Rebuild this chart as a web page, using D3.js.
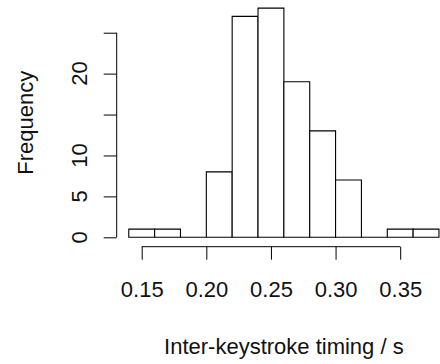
<!DOCTYPE html>
<html>
<head>
<meta charset="utf-8">
<script src="https://cdn.jsdelivr.net/npm/d3@7"></script>
<style>
  html, body { margin: 0; padding: 0; background: #fff; }
  svg text { font-family: "Liberation Sans", Arial, Helvetica, sans-serif; fill: #111; }
</style>
</head>
<body>
<div class="hist-chart"></div>
<script>
// histogram bins (left edges, width 0.02) and counts
const binStarts = [0.14, 0.16, 0.18, 0.20, 0.22, 0.24, 0.26, 0.28, 0.30, 0.32, 0.34, 0.36];
const binWidth = 0.02;
const counts = [1, 1, 0, 8, 27, 28, 19, 13, 7, 0, 1, 1];

const xTicks = [0.15, 0.20, 0.25, 0.30, 0.35];
const xTickLabels = ['0.15', '0.20', '0.25', '0.30', '0.35'];
const yTicks = [0, 5, 10, 15, 20, 25];
const yTickLabels = ['0', '5', '10', '', '20', ''];

const xTitle = 'Inter-keystroke timing / s';
const yTitle = 'Frequency';

const width = 440;
const height = 364;
const fontSize = 22;

const svg = d3.select('.hist-chart')
  .append('svg')
  .attr('width', width)
  .attr('height', height);

// scales
const x = d3.scaleLinear()
  .domain([0.15, 0.35])
  .range([141.7, 400.2]);

const y = d3.scaleLinear()
  .domain([0, 25])
  .range([237.3, 32.7]);

// bars as closed paths so that empty bins still show a baseline
svg.append('g')
  .selectAll('path')
  .data(binStarts.map((b, i) => ({ start: b, count: counts[i] })))
  .join('path')
  .attr('d', d => {
    const x0 = x(d.start), x1 = x(d.start + binWidth);
    const y0 = y(0), y1 = y(d.count);
    return `M${x0},${y0}L${x0},${y1}L${x1},${y1}L${x1},${y0}Z`;
  })
  .attr('fill', '#fff')
  .attr('stroke', '#000')
  .attr('stroke-width', 1.1);

// x axis
const xAxisY = 246.7;
const xAxis = d3.axisBottom(x)
  .tickValues(xTicks)
  .tickFormat((d, i) => xTickLabels[i])
  .tickSizeOuter(0)
  .tickSize(13);

const xAxisGroup = svg.append('g')
  .attr('transform', `translate(0, ${xAxisY})`)
  .call(xAxis)
  .call(g => g.select('.domain').remove());

xAxisGroup.append('line')
  .attr('x1', x(xTicks[0]))
  .attr('x2', x(xTicks[xTicks.length - 1]))
  .attr('stroke', '#000');

xAxisGroup.selectAll('.tick line').attr('stroke', '#000');
xAxisGroup.selectAll('.tick text')
  .attr('font-size', fontSize)
  .attr('font-family', '"Liberation Sans", Arial, Helvetica, sans-serif')
  .attr('fill', '#111')
  .attr('dy', 0)
  .attr('y', 297.5 - xAxisY);

// y axis
const yAxisX = 116.7;
const yAxis = d3.axisLeft(y)
  .tickValues(yTicks)
  .tickFormat('')
  .tickSizeOuter(0)
  .tickSize(13);

const yAxisGroup = svg.append('g')
  .attr('transform', `translate(${yAxisX}, 0)`)
  .call(yAxis)
  .call(g => g.select('.domain').remove());

yAxisGroup.append('line')
  .attr('y1', y(yTicks[0]))
  .attr('y2', y(yTicks[yTicks.length - 1]))
  .attr('stroke', '#000');

yAxisGroup.selectAll('.tick line').attr('stroke', '#000');

// rotated y tick labels
svg.append('g')
  .selectAll('text')
  .data(yTicks.map((v, i) => ({ v, label: yTickLabels[i] })))
  .join('text')
  .attr('transform', d => `translate(87, ${y(d.v)}) rotate(-90)`)
  .attr('text-anchor', 'middle')
  .attr('font-size', fontSize)
  .text(d => d.label);

// titles, centred on the plot region
svg.append('text')
  .attr('x', x(0.26))
  .attr('y', 353.5)
  .attr('text-anchor', 'middle')
  .attr('font-size', fontSize)
  .text(xTitle);

svg.append('text')
  .attr('transform', `translate(33, ${y(14)}) rotate(-90)`)
  .attr('text-anchor', 'middle')
  .attr('font-size', fontSize)
  .text(yTitle);
</script>
</body>
</html>
